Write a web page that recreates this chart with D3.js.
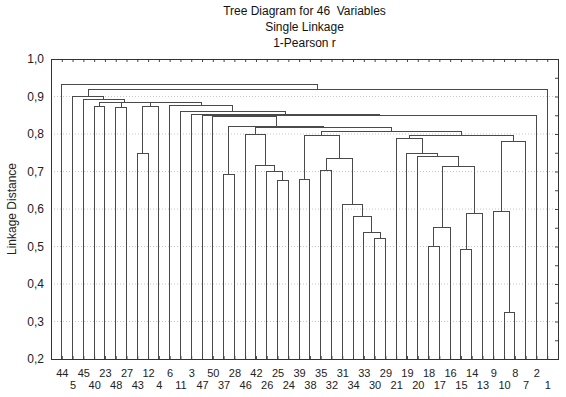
<!DOCTYPE html>
<html>
<head>
<meta charset="utf-8">
<script src="https://cdn.jsdelivr.net/npm/d3@7"></script>
<style>
  body { margin: 0; background: #fff; }
  svg { display: block; font-family: Arial, "Liberation Sans", sans-serif; }
</style>
</head>
<body>
<div id="chart"></div>
<script>
// Leaves in the order they are drawn, left to right
const leafOrder = ["44", "5", "45", "40", "23", "48", "27", "43", "12", "4", "6", "11", "3", "47", "50", "37",
    "28", "46", "42", "26", "25", "24", "39", "38", "35", "32", "31", "34", "33", "30", "29", "21", "19", "20",
    "18", "17", "16", "15", "14", "13", "9", "10", "8", "7", "2", "1"];

// Joins, bottom-up: [id, left child, right child, linkage distance]
const joins = [
    ["c1", "10", "8", 0.323],
    ["c2", "30", "29", 0.522],
    ["c3", "33", "c2", 0.538],
    ["c4", "34", "c3", 0.581],
    ["c5", "31", "c4", 0.611],
    ["c6", "15", "14", 0.491],
    ["c7", "18", "17", 0.501],
    ["c8", "c7", "16", 0.552],
    ["c9", "c6", "13", 0.587],
    ["c10", "9", "c1", 0.593],
    ["c11", "25", "24", 0.676],
    ["c12", "39", "38", 0.679],
    ["c13", "37", "28", 0.693],
    ["c14", "26", "c11", 0.701],
    ["c15", "35", "32", 0.704],
    ["c16", "c8", "c9", 0.713],
    ["c17", "42", "c14", 0.715],
    ["c18", "c15", "c5", 0.735],
    ["c19", "20", "c16", 0.741],
    ["c20", "19", "c19", 0.7485],
    ["c21", "43", "12", 0.749],
    ["c22", "c10", "7", 0.781],
    ["c23", "21", "c20", 0.789],
    ["c24", "c12", "c18", 0.796],
    ["c25", "c23", "c22", 0.797],
    ["c26", "46", "c17", 0.800],
    ["c27", "c24", "c25", 0.806],
    ["c28", "c26", "c27", 0.818],
    ["c29", "c13", "c28", 0.820],
    ["c30", "50", "c29", 0.8475],
    ["c31", "47", "c30", 0.8485],
    ["c32", "c31", "2", 0.849],
    ["c33", "3", "c32", 0.853],
    ["c34", "11", "c33", 0.859],
    ["c35", "6", "c34", 0.877],
    ["c36", "40", "23", 0.874],
    ["c37", "48", "27", 0.871],
    ["c38", "c21", "4", 0.874],
    ["c39", "c38", "c35", 0.883],
    ["c40", "c37", "c39", 0.884],
    ["c41", "c36", "c40", 0.8845],
    ["c42", "45", "c41", 0.8915],
    ["c43", "5", "c42", 0.9005],
    ["c44", "c43", "1", 0.919],
    ["c45", "44", "c44", 0.933]
];

const yTicks = [0.2, 0.3, 0.4, 0.5, 0.6, 0.7, 0.8, 0.9, 1.0];
const yMinorTicks = d3.range(0.2, 1.0001, 0.05);
const titleLines = ["Tree Diagram for 46  Variables", "Single Linkage", "1-Pearson r"];
const yLabel = "Linkage Distance";

const W = 566, H = 397;
const margin = { top: 59, right: 8, bottom: 38, left: 51 };
const width = W - margin.left - margin.right;
const height = H - margin.top - margin.bottom;

const svg = d3.select("#chart").append("svg")
    .attr("width", W)
    .attr("height", H);

const g = svg.append("g")
    .attr("transform", `translate(${margin.left},${margin.top})`);

const xScale = d3.scaleLinear()
    .domain([0, leafOrder.length + 1])
    .range([0, width]);

const yScale = d3.scaleLinear()
    .domain([0.2, 1.0])
    .range([height, 0]);

// Title
svg.append("g")
    .selectAll("text")
    .data(titleLines)
    .join("text")
    .attr("x", margin.left + width / 2)
    .attr("y", (d, i) => 15 + i * 16)
    .attr("text-anchor", "middle")
    .style("font-size", "12px")
    .style("white-space", "pre")
    .style("fill", "#111")
    .text(d => d);

// Faint grid
g.append("g")
    .selectAll("line")
    .data(yTicks.slice(1, -1))
    .join("line")
    .attr("x1", 0)
    .attr("x2", width)
    .attr("y1", d => yScale(d))
    .attr("y2", d => yScale(d))
    .attr("stroke", "#c8c8c8")
    .attr("stroke-dasharray", "1,2");

// Node positions
const xPos = new Map();
const hPos = new Map();
leafOrder.forEach((d, i) => {
    xPos.set(d, xScale(i + 1));
    hPos.set(d, yScale.domain()[0]);
});
joins.forEach(([id, a, b, h]) => {
    xPos.set(id, (xPos.get(a) + xPos.get(b)) / 2);
    hPos.set(id, h);
});

// Tree links
g.append("g")
    .selectAll("path")
    .data(joins)
    .join("path")
    .attr("fill", "none")
    .attr("stroke", "#4a4a4a")
    .attr("stroke-width", 1)
    .attr("shape-rendering", "crispEdges")
    .attr("d", ([id, a, b, h]) =>
        `M${xPos.get(a)},${yScale(hPos.get(a))}V${yScale(h)}H${xPos.get(b)}V${yScale(hPos.get(b))}`);

// Axes
const leafIdx = leafOrder.map((d, i) => i + 1);

const yAxis = g.append("g")
    .call(d3.axisLeft(yScale).tickValues(yTicks).tickSize(0).tickPadding(7)
        .tickFormat(d => d.toFixed(1).replace(".", ",")));
yAxis.select(".domain").remove();
yAxis.selectAll("text").style("font-size", "12px").style("fill", "#222").style("font-family", null);

const rightAxis = g.append("g")
    .attr("transform", `translate(${width},0)`)
    .call(d3.axisRight(yScale).tickValues(yMinorTicks).tickSize(-3).tickFormat(""));
rightAxis.select(".domain").remove();

const topAxis = g.append("g")
    .call(d3.axisTop(xScale).tickValues(leafIdx).tickSize(-3).tickFormat(""));
topAxis.select(".domain").remove();

const xAxis = g.append("g")
    .attr("transform", `translate(0,${height})`)
    .call(d3.axisBottom(xScale).tickValues(leafIdx).tickSize(-3)
        .tickFormat(i => leafOrder[i - 1]));
xAxis.select(".domain").remove();
xAxis.selectAll("text")
    .attr("y", i => i % 2 === 1 ? 18 : 29.5)
    .attr("dy", 0)
    .style("font-size", "11px")
    .style("fill", "#222")
    .style("font-family", null);

g.selectAll(".tick line").attr("stroke", "#444");

// Frame
g.append("rect")
    .attr("width", width)
    .attr("height", height)
    .attr("fill", "none")
    .attr("stroke", "#333")
    .attr("shape-rendering", "crispEdges");

// Y label
svg.append("text")
    .attr("transform", `translate(16,${margin.top + height / 2}) rotate(-90)`)
    .attr("text-anchor", "middle")
    .style("font-size", "12px")
    .style("fill", "#222")
    .text(yLabel);
</script>
</body>
</html>
